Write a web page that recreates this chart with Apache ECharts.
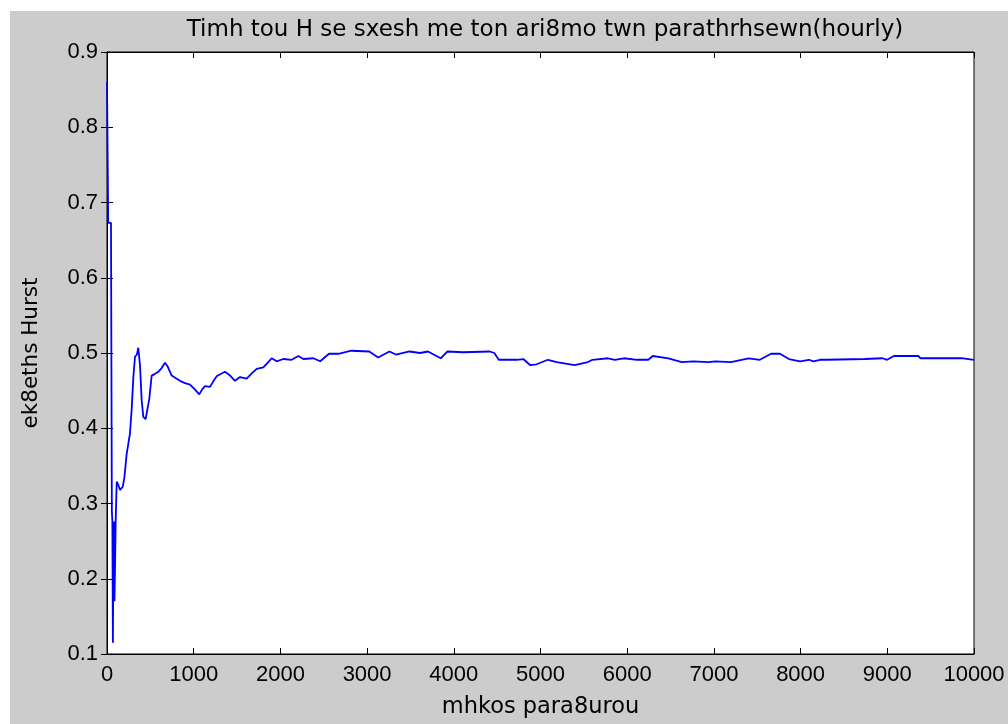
<!DOCTYPE html>
<html>
<head>
<meta charset="utf-8">
<script src="https://cdn.jsdelivr.net/npm/echarts@6/dist/echarts.min.js"></script>
<style>html,body{margin:0;padding:0;background:#fff;}#c{width:1008px;height:724px;}</style>
</head>
<body>
<div id="c"></div>
<script>
const titleText = 'Timh tou H se sxesh me ton ari8mo twn parathrhsewn(hourly)';
const xName = 'mhkos para8urou';
const yName = 'ek8eths Hurst';
const sampleSizes = [0,10,14,46,56,62,68,74,80,86,92,100,112,130,150,181,200,215,227,245,265,285,304,323,345,361,381,400,419,445,465,488,515,550,592,630,669,700,746,800,842,900,957,1010,1065,1100,1130,1188,1230,1265,1310,1361,1420,1476,1534,1611,1670,1726,1803,1860,1899,1957,2034,2130,2207,2265,2380,2459,2561,2669,2819,3025,3128,3257,3333,3489,3610,3703,3849,3926,4106,4415,4467,4519,4725,4802,4879,4956,5085,5188,5393,5548,5599,5780,5857,5960,6114,6243,6295,6475,6630,6759,6939,7016,7196,7401,7530,7659,7762,7865,7994,8097,8148,8225,8302,8740,8946,8998,9075,9358,9384,9874,10000];
const hurst = [0.86,0.86,0.673,0.673,0.29,0.276,0.115,0.24,0.276,0.17,0.21,0.276,0.329,0.325,0.318,0.322,0.334,0.336,0.366,0.366,0.393,0.426,0.468,0.495,0.498,0.507,0.483,0.437,0.415,0.412,0.410,0.439,0.470,0.472,0.475,0.480,0.487,0.482,0.470,0.466,0.463,0.460,0.458,0.452,0.445,0.452,0.456,0.455,0.463,0.469,0.472,0.475,0.470,0.463,0.468,0.466,0.473,0.479,0.481,0.488,0.493,0.489,0.492,0.491,0.496,0.492,0.493,0.489,0.499,0.499,0.503,0.502,0.494,0.502,0.498,0.502,0.500,0.502,0.493,0.502,0.501,0.502,0.500,0.491,0.491,0.492,0.484,0.485,0.491,0.488,0.484,0.488,0.491,0.493,0.491,0.493,0.491,0.491,0.496,0.493,0.488,0.489,0.488,0.489,0.488,0.493,0.491,0.499,0.499,0.492,0.489,0.491,0.489,0.491,0.491,0.492,0.493,0.491,0.496,0.496,0.493,0.493,0.491];
const xTicks = {min: 0, max: 10000, interval: 1000};
const yTicks = {min: 0.1, max: 0.9, interval: 0.1};

const TICKFONT = 'Liberation Sans';
const TEXTFONT = 'DejaVu Sans';
const data = sampleSizes.map((x, i) => [x, hurst[i]]);
const chart = echarts.init(document.getElementById('c'), null, {renderer: 'canvas'});
const baseAxis = {
  axisLine: {show: true, lineStyle: {color: '#000', width: 1}},
  axisTick: {show: true, inside: true, length: 6, lineStyle: {color: '#000', width: 1}},
  splitLine: {show: false}
};
chart.setOption({
  animation: false,
  backgroundColor: '#ffffff',
  graphic: [{type: 'rect', z: -10, shape: {x: 10, y: 11, width: 1000, height: 720}, style: {fill: '#cccccc'}}],
  title: {
    text: titleText, left: 540, top: 14, textAlign: 'center',
    textStyle: {fontFamily: TEXTFONT, fontSize: 23, fontWeight: 'normal', color: '#000'}
  },
  grid: {left: 107, right: 34, top: 52, bottom: 68, show: true, backgroundColor: '#fff', borderColor: '#000', borderWidth: 1},
  xAxis: [
    Object.assign({}, baseAxis, {
      type: 'value', position: 'bottom', min: xTicks.min, max: xTicks.max, interval: xTicks.interval,
      name: xName, nameLocation: 'middle', nameGap: 42,
      nameTextStyle: {fontFamily: TEXTFONT, fontSize: 22.5, color: '#000'},
      axisLabel: {fontFamily: TICKFONT, fontSize: 22, color: '#000', margin: 10, formatter: v => String(v)}
    }),
    Object.assign({}, baseAxis, {
      type: 'value', position: 'top', min: xTicks.min, max: xTicks.max, interval: xTicks.interval,
      axisLabel: {show: false}
    })
  ],
  yAxis: [
    Object.assign({}, baseAxis, {
      type: 'value', position: 'left', min: yTicks.min, max: yTicks.max, interval: yTicks.interval,
      name: yName, nameLocation: 'middle', nameGap: 65,
      nameTextStyle: {fontFamily: TEXTFONT, fontSize: 21.5, color: '#000'},
      axisLabel: {fontFamily: TICKFONT, fontSize: 22, color: '#000', margin: 9, formatter: v => v.toFixed(1)}
    }),
    Object.assign({}, baseAxis, {
      type: 'value', position: 'right', min: yTicks.min, max: yTicks.max, interval: yTicks.interval,
      axisLabel: {show: false}
    })
  ],
  series: [{
    type: 'line', data: data, xAxisIndex: 0, yAxisIndex: 0,
    showSymbol: false, symbol: 'none',
    lineStyle: {color: '#0000ff', width: 1.8}
  }]
});
</script>
</body>
</html>
